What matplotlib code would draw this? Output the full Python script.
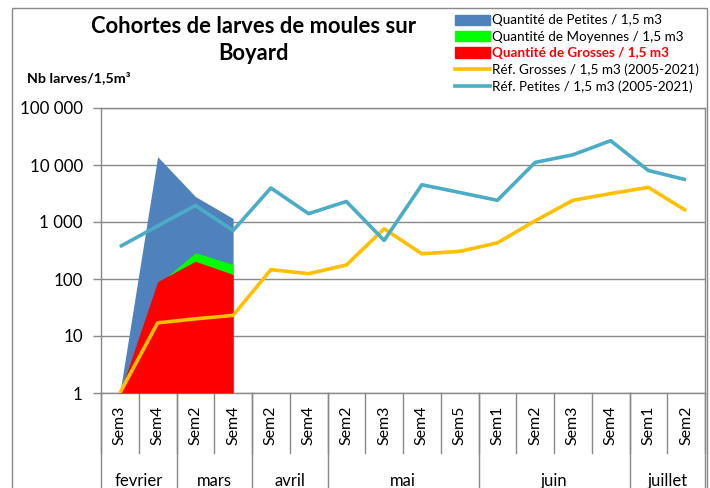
import numpy as np
import matplotlib
matplotlib.use("Agg")
import matplotlib.pyplot as plt
from matplotlib.patches import Patch, Rectangle
from matplotlib.lines import Line2D

plt.rcParams['font.family'] = ['Lato', 'DejaVu Sans']

# data
weeks = ["Sem3", "Sem4", "Sem2", "Sem4", "Sem2", "Sem4", "Sem2", "Sem3",
         "Sem4", "Sem5", "Sem1", "Sem2", "Sem3", "Sem4", "Sem1", "Sem2"]
months = ["fevrier", "mars", "avril", "mai", "juin", "juillet"]
month_len = [2, 2, 2, 4, 4, 2]

petites = [1, 14000, 2800, 1150]
moyennes = [1, 80, 290, 180]
grosses = [1, 90, 205, 120]

ref_grosses = [1, 17, 20, 23, 146, 124, 176, 760, 277, 305,
               430, 1050, 2400, 3150, 4050, 1580]
ref_petites = [370, 850, 1950, 710, 3950, 1400, 2290, 475, 4500, 3300,
               2400, 11100, 15100, 26700, 8000, 5500]

yticks = [1, 10, 100, 1000, 10000, 100000]
ylabels = ["1", "10", "100", "1 000", "10 000", "100 000"]

grey = "#898989"

fig = plt.figure(figsize=(7.1, 4.88), dpi=100)
ax = fig.add_axes([101/710, 95/488, 604/710, 285/488])

x = np.arange(len(weeks))
xa = x[:len(petites)]
ax.fill_between(xa, 1, petites, color="#4F81BD", lw=0, zorder=2)
ax.fill_between(xa, 1, moyennes, color="#00FF00", lw=0, zorder=3)
ax.fill_between(xa, 1, grosses, color="#FF0000", lw=0, zorder=4)
ax.plot(x, ref_grosses, color="#FFC000", lw=2.6, zorder=5, solid_capstyle='butt')
ax.plot(x, ref_petites, color="#4BACC6", lw=2.6, zorder=6, solid_capstyle='butt')

ax.set_yscale('log')
ax.set_ylim(1, 100000)
ax.set_xlim(-0.5, len(weeks) - 0.5)
ax.set_yticks(yticks)
ax.set_yticklabels(ylabels, fontsize=12.2)
ax.yaxis.set_minor_locator(matplotlib.ticker.NullLocator())
ax.tick_params(axis='y', length=6, color=grey, width=1, pad=7)
ax.set_xticks([])
ax.grid(axis='y', color=grey, lw=1)
ax.set_axisbelow(True)
for s in ax.spines.values():
    s.set_color(grey)
    s.set_linewidth(1)

# category axis (two levels)
tr = ax.get_xaxis_transform()
for i in range(len(weeks) + 1):
    ax.plot([i - 0.5, i - 0.5], [0, -0.21], color=grey, lw=1,
            transform=tr, clip_on=False)
for i, w in enumerate(weeks):
    ax.text(i, -0.112, w, rotation=90, ha='center', va='center',
            fontsize=11.5, transform=tr)
pos = 0
ax.plot([-0.5, -0.5], [0, -0.4], color=grey, lw=1, transform=tr, clip_on=False)
for m, n in zip(months, month_len):
    ax.text(pos + n / 2 - 0.5, -0.326, m, ha='center', va='baseline',
            fontsize=12, transform=tr)
    pos += n
    ax.plot([pos - 0.5, pos - 0.5], [0, -0.4], color=grey, lw=1,
            transform=tr, clip_on=False)

# titles
fig.text(253/710, 1 - 40/488, "Cohortes de larves de moules sur\nBoyard",
         ha='center', va='center', fontsize=15.8, fontweight='bold',
         linespacing=1.32)
fig.text(27/710, 1 - 78/488, "Nb larves/1,5m³", ha='left',
         va='center', fontsize=10.3, fontweight='bold')

# legend
handles = [Patch(color="#4F81BD"), Patch(color="#00FF00"), Patch(color="#FF0000"),
           Line2D([], [], color="#FFC000", lw=2.6), Line2D([], [], color="#4BACC6", lw=2.6)]
labels = ["Quantité de Petites / 1,5 m3", "Quantité de Moyennes / 1,5 m3",
          "Quantité de Grosses / 1,5 m3", "Réf. Grosses / 1,5 m3 (2005-2021)",
          "Réf. Petites / 1,5 m3 (2005-2021)"]
leg = fig.legend(handles, labels, loc='upper left', bbox_to_anchor=(446/710, 1 - 5/488),
                 frameon=False, fontsize=9.7, handlelength=2.6, handleheight=0.8,
                 handletextpad=0.1, labelspacing=0.33, borderpad=0.2)
t = leg.get_texts()[2]
t.set_color("#FF0000")
t.set_fontweight('bold')

# outer chart frame
fig.patches.append(Rectangle((12/710, -0.05), 695/710, 1.05 - 8/488, transform=fig.transFigure,
                             fill=False, edgecolor=grey, lw=1))

fig.savefig("out.png", dpi=100)
